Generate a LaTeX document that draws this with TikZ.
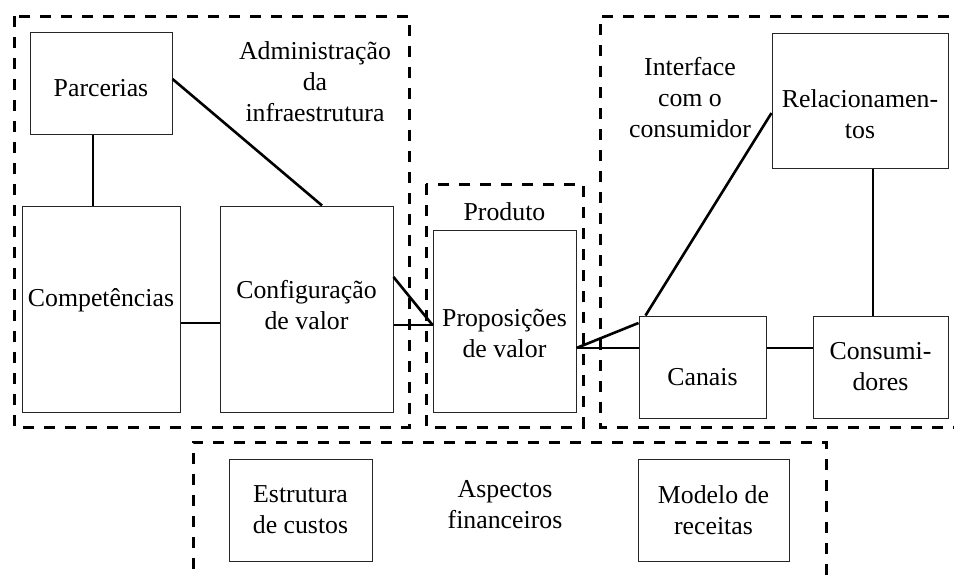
\documentclass[tikz,border=0pt]{standalone}
\usepackage{fontspec}
\setmainfont{Liberation Serif}
\usetikzlibrary{positioning,calc}

\begin{document}
\begin{tikzpicture}[x=0.5pt, y=-0.5pt,
    every node/.style={font=\fontsize{12.9}{15.5}\selectfont, align=center},
    blk/.style={draw=black!85, line width=0.5pt, inner sep=0pt},
    grp/.style={line width=1.5pt, dash pattern=on 5.5pt off 5pt},
    lnk/.style={line width=1.3pt}]
    \useasboundingbox (0,0) rectangle (954,574);
    \draw[grp] (14,16) rectangle (409,427);
    \draw[grp] (426,184) rectangle (583,427);
    \draw[grp] (970,16) -- (600,16) -- (600,427) -- (970,427);
    \draw[grp] (193,590) -- (193,442) -- (826,442) -- (826,590);

    \node[blk, minimum width=71pt, minimum height=51pt,
        label={[yshift=-2.5pt]center:Parcerias}] (par) at (101,83) {};
    \node[blk, minimum width=79pt, minimum height=103pt,
        label={[yshift=4.5pt]center:Competências}] (comp) at (101,309) {};
    \node[blk, minimum width=86.5pt, minimum height=103pt,
        label={[yshift=2pt]center:{Configuração\\de valor}}] (conf) at (306.5,309) {};
    \node[blk, minimum width=71.5pt, minimum height=91pt,
        label={[yshift=-6pt]center:{Proposições\\de valor}}] (prop) at (504.5,321) {};
    \node[blk, minimum width=88pt, minimum height=67.5pt,
        label={[yshift=-7pt]center:{Relacionamen-\\tos}}] (rel) at (860,100.5) {};
    \node[blk, minimum width=63.5pt, minimum height=51pt,
        label={[yshift=-5pt]center:Canais}] (can) at (702.5,367) {};
    \node[blk, minimum width=67.5pt, minimum height=51pt] (cons) at (880.5,367) {Consumi-\\dores};
    \node[blk, minimum width=71.5pt, minimum height=51pt] (est) at (300.5,510) {Estrutura\\de custos};
    \node[blk, minimum width=75.5pt, minimum height=51pt] (rec) at (713.5,510) {Modelo de\\receitas};

    \node (adm) at (315,82) {Administração\\da\\infraestrutura};
    \node (ifc) at (690,98) {Interface\\com o\\consumidor};
    \node[above=1pt of prop] (prod) {Produto};
    \node (fin) at (505,505) {Aspectos\\financeiros};

    \draw[lnk] ([xshift=-4pt]par.south) -- ([xshift=-4pt]comp.north);
    \draw[lnk] ([yshift=2pt]par.east) -- ([xshift=7.75pt]conf.north);
    \draw[lnk] ([yshift=-7pt]comp.east) -- ([yshift=-7pt]conf.west);
    \draw[lnk] ([yshift=-8pt]conf.east) -- ([yshift=-2pt]prop.west);
    \draw[lnk] ([yshift=16pt]conf.east) -- ([yshift=-2pt]prop.west);
    \draw[lnk] ([yshift=-13.5pt]prop.east) -- ([yshift=9.5pt]can.west);
    \draw[lnk] ([yshift=-13.5pt]prop.east) -- ([yshift=22pt]can.west);
    \draw[lnk] ([xshift=3.5pt]can.north west) -- ([yshift=-6.25pt]rel.west);
    \draw[lnk] ([xshift=6.5pt]rel.south) -- ([xshift=6.5pt]rel.south |- cons.north);
    \draw[lnk] ([yshift=9.5pt]can.east) -- ([yshift=9.5pt]cons.west);
\end{tikzpicture}
\end{document}
